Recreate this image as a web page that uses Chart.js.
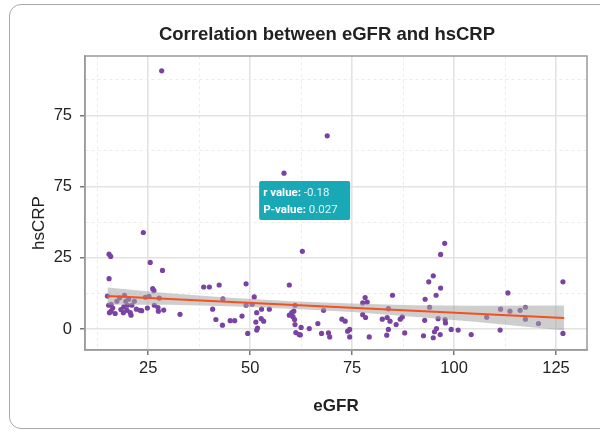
<!DOCTYPE html>
<html>
<head>
<meta charset="utf-8">
<script src="https://cdn.jsdelivr.net/npm/chart.js@4.4.1/dist/chart.umd.min.js"></script>
<style>
  html, body { margin: 0; padding: 0; background: #fff; }
  #wrap { position: relative; width: 600px; height: 433px; overflow: hidden; }
  #card { position: absolute; left: 9px; top: 4px; width: 640px; height: 425px;
          border: 1.5px solid #aaa; border-radius: 12px; box-sizing: border-box; }
  #box { position: absolute; left: 0; top: 0; width: 600px; height: 433px; }
</style>
</head>
<body>
<div id="wrap">
  <div id="card"></div>
  <div id="box"><canvas id="myChart"></canvas></div>
</div>
<script>
const egfr = [
  28.3, 68.9, 58.3,
  23.8, 15.4, 15.8, 25.5, 28.5, 15.4, 26.1, 26.4,
  15.0, 19.2, 24.3, 25.2, 27.7, 15.3, 15.9, 17.3, 19.5, 19.9, 21.6, 21.0, 24.8, 26.5, 27.4,
  15.5, 15.9, 16.9, 18.3, 18.9, 19.8, 20.6, 20.8, 23.0, 23.4, 27.5, 28.8, 32.8,
  18.0, 20.2, 16.3, 22.1, 19.0,
  38.6, 40.0, 42.4, 49.0, 59.6, 43.3, 51.0, 40.8, 41.6, 43.2, 45.1, 46.2, 48.0, 49.0, 50.5,
  49.4, 51.6, 51.4, 51.6, 51.8, 52.8, 52.7, 53.3, 54.7, 59.6, 60.2, 60.7, 61.0, 60.9, 61.0,
  61.2, 62.0, 62.8, 60.5,
  62.5, 62.3, 64.5, 66.6, 67.5, 68.0, 69.2, 69.5, 72.5, 73.3, 73.9, 74.4, 74.4,
  77.6, 78.2, 78.7, 77.6, 78.3, 79.2, 82.4, 83.9, 83.6, 84.3, 84.9, 83.9, 83.5, 85.8, 86.8,
  87.3, 87.9, 92.5, 92.9, 92.8, 93.8, 94.9, 94.0, 95.6, 96.7, 96.7, 97.7, 96.1, 97.8, 97.9,
  95.7, 95.2, 94.9, 96.6, 99.3, 101.0, 104.2, 108.0, 111.3, 111.4, 113.2, 113.7, 116.2,
  117.5, 117.5, 120.7, 126.7, 126.7
];
const hscrp = [
  90.6, 67.8, 54.7,
  33.9, 26.3, 25.5, 23.4, 20.6, 17.7, 14.2, 13.5,
  11.6, 11.9, 11.2, 11.5, 10.9, 8.4, 8.7, 9.8, 9.8, 8.4, 9.8, 8.4, 7.4, 8.4, 7.6,
  5.8, 6.3, 5.5, 6.9, 5.8, 6.6, 5.8, 4.9, 6.6, 6.5, 6.3, 6.7, 5.2,
  11.0, 10.5, 7.4, 7.0, 7.8,
  14.8, 14.8, 15.5, 15.9, 15.5, 10.6, 11.3, 7.0, 3.4, 1.4, 3.0, 3.0, 4.6, 8.4, 8.7,
  -1.5, 5.8, 2.5, -0.3, 0.4, 7.0, 3.7, 2.8, 7.0, 4.9, 5.8, 6.3, 8.4, 3.4, 1.6,
  -1.2, -1.9, 27.3, 4.4,
  0.6, -2.0, 0.2, 2.0, -1.5, 6.6, -1.3, -2.7, 3.5, 2.8, -0.7, -0.1, -2.7,
  9.2, 11.1, 9.5, 5.1, 4.1, -2.7, 3.5, 7.2, 4.1, 2.8, 11.9, -0.1, -2.1, 1.6, 3.5,
  4.3, -1.3, -2.3, 10.5, 3.1, 16.6, 18.7, 7.7, 11.9, 14.4, 26.2, 30.1, 3.7, 3.4, 2.2,
  0.2, -0.9, -3.0, -1.9, -0.1, -0.3, -1.9, 4.2, -0.3, 7.0, 12.7, 6.3, 6.6,
  7.7, 3.5, 2.0, 16.6, -1.5
];

// fitted line and its grey band
const fitX = [15, 127];
const fitY = [11.6, 3.9];
const bandX = [15, 30, 45, 60, 75, 90, 105, 127];
const bandHigh = [14.6, 12.6, 11.0, 9.8, 9.0, 8.4, 8.2, 8.3];
const bandLow = [8.6, 8.6, 8.0, 7.2, 6.0, 4.4, 2.6, -0.5];

const xTicks = [25, 50, 75, 100, 125];
const xMinor = [12.5, 37.5, 62.5, 87.5, 112.5];
const yTicks = [0, 25, 50, 75];
const yTickLabels = ["0", "25", "75", "75"];
const yMinor = [12.5, 37.5, 62.5, 87.5];

const statLabels = ["r value:", "P-value:"];
const statValues = ["-0.18", "0.027"];

const FONT = "'Liberation Sans', Arial, sans-serif";

const isMajor = (axis, v) => (axis === "x" ? xTicks : yTicks).includes(v);

const gridFor = (axis) => ({
  color: (c) => (c.tick && isMajor(axis, c.tick.value) ? "#e3e3e3" : "#ececec"),
  lineWidth: (c) => (c.tick && isMajor(axis, c.tick.value) ? 1.6 : 1),
  tickColor: (c) => (c.tick && isMajor(axis, c.tick.value) ? "#555" : "rgba(0,0,0,0)"),
  tickLength: 5,
  tickWidth: 1.2,
});

const borderFor = (axis) => ({
  display: true,
  color: "#9a9a9a",
  width: 1.5,
  dash: (c) => (c.tick && !isMajor(axis, c.tick.value) ? [3, 3] : []),
});

// panel box, titles and the r/P label
const extras = {
  id: "extras",
  beforeDatasetsDraw(chart) {
    const { ctx, chartArea: a } = chart;
    ctx.save();
    ctx.strokeStyle = "#9a9a9a";
    ctx.lineWidth = 1.5;
    ctx.strokeRect(a.left, a.top, a.right - a.left, a.bottom - a.top);
    ctx.restore();
  },
  afterDraw(chart) {
    const { ctx, scales: { x, y } } = chart;
    ctx.save();
    ctx.font = "bold 18.5px " + FONT;
    ctx.fillStyle = "#222";
    ctx.textAlign = "center";
    ctx.textBaseline = "middle";
    ctx.fillText("Correlation between eGFR and hsCRP", 327, 35);

    // y axis title
    ctx.translate(39, 223);
    ctx.rotate(-Math.PI / 2);
    ctx.font = "17px " + FONT;
    ctx.fillText("hsCRP", 0, 0);
    ctx.restore();

    // stats label box, anchored in data space
    const bx = x.getPixelForValue(52.2);
    const by = y.getPixelForValue(52.0);
    const bw = 91, bh = 39;
    ctx.save();
    ctx.fillStyle = "#19a9b6";
    ctx.beginPath();
    ctx.roundRect(bx, by, bw, bh, 2);
    ctx.fill();
    ctx.textBaseline = "alphabetic";
    statLabels.forEach((lab, i) => {
      const ty = by + 15.5 + i * 16.5;
      ctx.font = "bold 11.5px Roboto, sans-serif";
      ctx.fillStyle = "#ffffff";
      ctx.fillText(lab, bx + 4, ty);
      const w = ctx.measureText(lab + " ").width;
      ctx.font = "11.5px Roboto, sans-serif";
      ctx.fillStyle = "rgba(255,255,255,0.88)";
      ctx.fillText(statValues[i], bx + 4 + w, ty);
    });
    ctx.restore();
  },
};

const data = {
  datasets: [
    {
      type: "line",
      label: "fit",
      data: fitX.map((v, i) => ({ x: v, y: fitY[i] })),
      borderColor: "#f4511e",
      borderWidth: 2,
      pointRadius: 0,
      fill: false,
      order: 1,
    },
    {
      type: "line",
      label: "low",
      data: bandX.map((v, i) => ({ x: v, y: bandLow[i] })),
      borderWidth: 0,
      borderColor: "rgba(0,0,0,0)",
      pointRadius: 0,
      fill: false,
      order: 2,
    },
    {
      type: "line",
      label: "high",
      data: bandX.map((v, i) => ({ x: v, y: bandHigh[i] })),
      borderWidth: 0,
      borderColor: "rgba(0,0,0,0)",
      backgroundColor: "rgba(165,165,165,0.55)",
      pointRadius: 0,
      fill: "-1",
      order: 2,
    },
    {
      type: "scatter",
      label: "points",
      data: egfr.map((v, i) => ({ x: v, y: hscrp[i] })),
      backgroundColor: "#7b43a1",
      borderWidth: 0,
      pointRadius: 2.6,
      order: 3,
    },
  ],
};

const config = {
  type: "scatter",
  data: data,
  options: {
    responsive: true,
    maintainAspectRatio: false,
    animation: false,
    events: [],
    layout: { padding: { left: 0, right: 13, top: 56, bottom: 0 } },
    plugins: {
      legend: { display: false },
      tooltip: { enabled: false },
      title: { display: false },
    },
    scales: {
      x: {
        type: "linear",
        min: 9.5,
        max: 132.6,
        afterBuildTicks: (s) => {
          s.ticks = [...xTicks, ...xMinor].sort((a, b) => a - b).map((v) => ({ value: v }));
        },
        afterFit: (s) => { s.height = 83; },
        ticks: {
          autoSkip: false,
          maxRotation: 0,
          padding: 4,
          color: "#222",
          font: { family: FONT, size: 16.5 },
          callback: (v) => (xTicks.includes(v) ? String(v) : ""),
        },
        grid: gridFor("x"),
        border: borderFor("x"),
        title: {
          display: true,
          text: "eGFR",
          color: "#222",
          font: { family: FONT, size: 17, weight: "bold" },
          padding: { top: 0, bottom: 16 },
        },
      },
      y: {
        type: "linear",
        min: -7.3,
        max: 95.8,
        afterBuildTicks: (s) => {
          s.ticks = [...yTicks, ...yMinor].sort((a, b) => a - b).map((v) => ({ value: v }));
        },
        afterFit: (s) => { s.width = 85; },
        ticks: {
          autoSkip: false,
          padding: 8,
          color: "#222",
          font: { family: FONT, size: 16.5 },
          callback: (v) => {
            const i = yTicks.indexOf(v);
            return i >= 0 ? yTickLabels[i] : "";
          },
        },
        grid: gridFor("y"),
        border: borderFor("y"),
      },
    },
  },
  plugins: [extras],
};

const ctx = document.getElementById("myChart").getContext("2d");
const myChart = new Chart(ctx, config);
</script>
</body>
</html>
